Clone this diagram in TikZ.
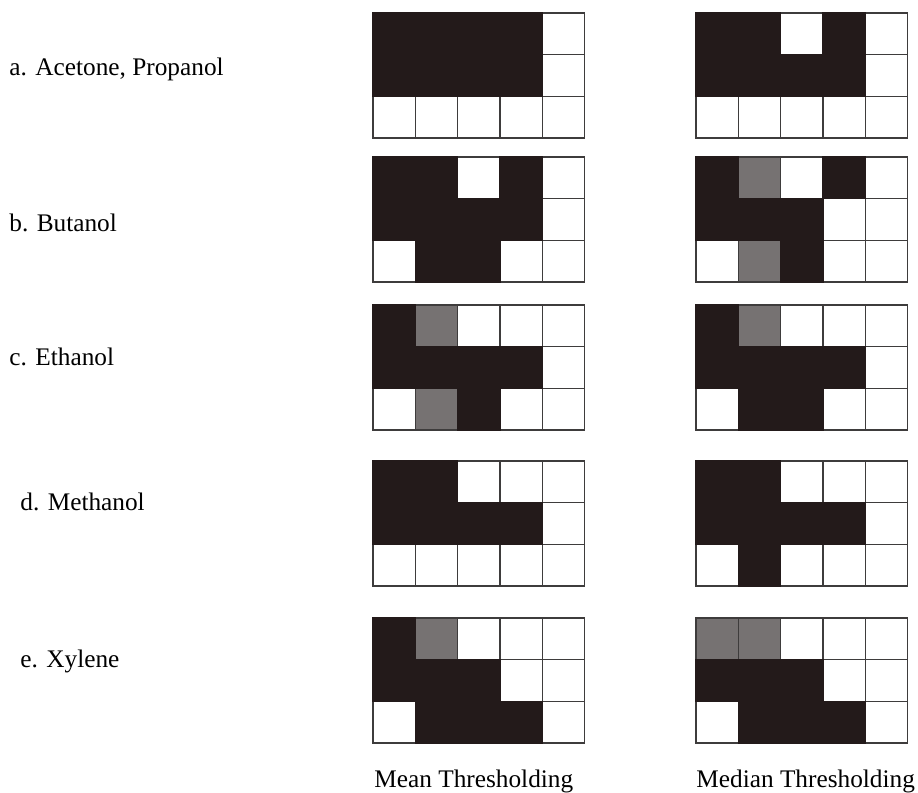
\documentclass[tikz,border=0pt]{standalone}
\usepackage{fontspec}
\setmainfont{Liberation Serif}
\usetikzlibrary{positioning}

\definecolor{ink}{RGB}{35,26,26}
\definecolor{halftone}{RGB}{118,114,114}
\definecolor{rule}{RGB}{62,60,60}

% cell size of the 5x3 maps, in pixels of the reference
\newcommand{\cellw}{42.3}
\newcommand{\cellh}{41.7}
% #1,#2 = top left corner, #3 = list of 15 codes (0 white, 1 black, 2 grey)
\newcommand{\drawgrid}[3]{%
  \foreach \v [count=\k from 0] in #3 {
    \pgfmathsetmacro{\cx}{#1+\cellw*mod(\k,5)}
    \pgfmathsetmacro{\cy}{#2+\cellh*int(\k/5)}
    \ifnum\v=2 \fill[halftone] (\cx,\cy) rectangle ++(\cellw,\cellh);\fi
  }
  \foreach \i in {0,...,4}
    \foreach \j in {0,...,2}
      \draw[cell] ({#1+\cellw*\i},{#2+\cellh*\j}) rectangle ++(\cellw,\cellh);
  % black cells last, so no rule shows inside a black block
  \foreach \v [count=\k from 0] in #3 {
    \pgfmathsetmacro{\cx}{#1+\cellw*mod(\k,5)}
    \pgfmathsetmacro{\cy}{#2+\cellh*int(\k/5)}
    \ifnum\v=1 \filldraw[ink, line width=0.7pt] (\cx,\cy) rectangle ++(\cellw,\cellh);\fi
  }
}

\begin{document}
\begin{tikzpicture}[
    x=0.5pt, y=-0.5pt,
    cell/.style={draw=rule, line width=0.7pt},
    solvent/.style={anchor=base west, inner sep=0pt, font=\fontsize{12.65}{15}\selectfont},
    caption/.style={solvent},
]
\path[use as bounding box] (0,0) rectangle (918,793);

% solvent names
\node[solvent] (lblA) at (9,75)   {a. Acetone, Propanol};
\node[solvent] (lblB) at (9,231)  {b. Butanol};
\node[solvent] (lblC) at (9,365)  {c. Ethanol};
\node[solvent] (lblD) at (20,510) {d. Methanol};
\node[solvent] (lblE) at (20,667) {e. Xylene};

% mean / median maps, one row per solvent
\foreach \gy/\mcodes/\dcodes in {
    13/{1,1,1,1,0, 1,1,1,1,0, 0,0,0,0,0}/{1,1,0,1,0, 1,1,1,1,0, 0,0,0,0,0},
    157/{1,1,0,1,0, 1,1,1,1,0, 0,1,1,0,0}/{1,2,0,1,0, 1,1,1,0,0, 0,2,1,0,0},
    305/{1,2,0,0,0, 1,1,1,1,0, 0,2,1,0,0}/{1,2,0,0,0, 1,1,1,1,0, 0,1,1,0,0},
    461/{1,1,0,0,0, 1,1,1,1,0, 0,0,0,0,0}/{1,1,0,0,0, 1,1,1,1,0, 0,1,0,0,0},
    618/{1,2,0,0,0, 1,1,1,0,0, 0,1,1,1,0}/{2,2,0,0,0, 1,1,1,0,0, 0,1,1,1,0}} {
  \drawgrid{373}{\gy}{\mcodes}
  \drawgrid{696}{\gy}{\dcodes}
}

\node[caption] (capMean)   at (374,787) {Mean Thresholding};
\node[caption] (capMedian) at (696,787) {Median Thresholding};
\end{tikzpicture}
\end{document}
